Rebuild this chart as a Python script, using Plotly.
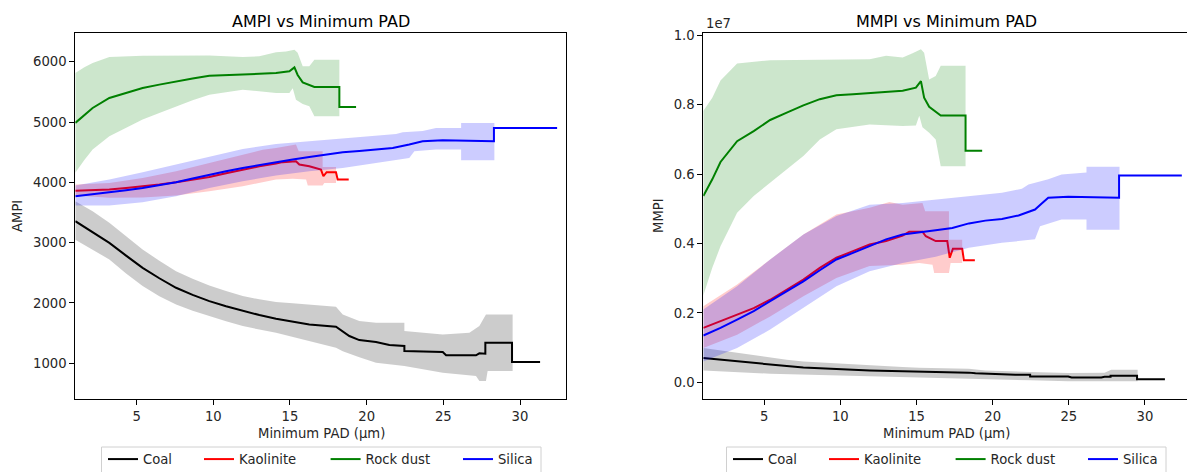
import plotly.graph_objects as go

# ---------------- data ----------------
# x = Minimum PAD (µm); MMPI values in units of 1e7
COAL_MEAN_X = [1.0, 2.13, 3.22, 4.31, 5.39, 6.48, 7.57, 8.65, 9.74, 10.83, 11.92, 13.0, 14.09, 15.18, 16.26,
               18.0, 18.44, 18.87, 19.52, 20.61, 21.48, 22.46, 22.46, 24.96, 25.18, 27.13, 27.35, 27.74, 27.74,
               29.48, 29.48, 31.31]
COAL_AMPI_MEAN = [3356, 3180, 2997, 2785, 2583, 2410, 2252, 2135, 2031, 1945, 1866, 1800, 1739, 1690, 1645,
                  1606, 1535, 1452, 1385, 1352, 1303, 1286, 1204, 1187, 1132, 1132, 1165, 1160, 1341,
                  1341, 1021, 1021]
COAL_MMPI_MEAN = [0.070, 0.065, 0.060, 0.055, 0.051, 0.047, 0.043, 0.040, 0.038, 0.036, 0.034, 0.033, 0.032, 0.030, 0.029,
                  0.029, 0.028, 0.026, 0.025, 0.022, 0.022, 0.022, 0.017, 0.017, 0.014, 0.014, 0.016, 0.016, 0.019,
                  0.019, 0.009, 0.009]
COAL_HI_X = [1.0, 2.13, 3.22, 4.31, 5.39, 6.48, 7.57, 8.65, 9.74, 10.83, 11.92, 13.0, 14.09, 15.18, 16.26,
             18.0, 18.44, 19.52, 20.61, 22.46, 22.46, 24.96, 26.70, 27.35, 27.78, 29.52]
COAL_AMPI_HI = [3687, 3520, 3329, 3100, 2887, 2700, 2528, 2400, 2291, 2200, 2114, 2060, 2015, 1995, 1976,
                1937, 1811, 1700, 1673, 1673, 1535, 1479, 1507, 1618, 1811, 1811]
COAL_MMPI_HI = [0.099, 0.092, 0.085, 0.077, 0.070, 0.065, 0.060, 0.057, 0.054, 0.051, 0.048, 0.046, 0.044, 0.042, 0.041,
                0.041, 0.039, 0.034, 0.033, 0.032, 0.030, 0.027, 0.027, 0.028, 0.036, 0.036]
COAL_LO_X = [1.0, 2.13, 3.22, 4.31, 5.39, 6.48, 7.57, 8.65, 9.74, 10.83, 11.92, 13.0, 14.09, 15.18, 16.26,
             18.0, 18.44, 19.52, 20.61, 22.46, 24.96, 27.13, 27.35, 27.78, 27.89, 29.52]
COAL_AMPI_LO = [3050, 2880, 2721, 2490, 2280, 2110, 1976, 1870, 1783, 1695, 1617, 1560, 1507, 1440, 1369,
                1259, 1200, 1100, 1010, 955, 845, 790, 707, 707, 872, 872]
COAL_MMPI_LO = [0.034, 0.031, 0.029, 0.027, 0.025, 0.023, 0.022, 0.020, 0.019, 0.018, 0.017, 0.016, 0.015, 0.014, 0.013,
                0.011, 0.010, 0.009, 0.008, 0.006, 0.003, 0.003, 0.002, 0.001, 0.003, 0.003]

KAO_MEAN_X = [1.0, 2.13, 3.22, 4.31, 5.39, 6.48, 7.57, 8.65, 9.74, 10.83, 11.92, 13.0, 14.09, 14.52, 15.39,
              15.61, 16.26, 17.02, 17.18, 17.39, 18.0, 18.11, 18.83]
KAO_AMPI_MEAN = [3862, 3870, 3880, 3905, 3930, 3965, 4002, 4045, 4090, 4150, 4212, 4265, 4311, 4335, 4350,
                 4295, 4267, 4212, 4101, 4168, 4168, 4046, 4046]
KAO_MMPI_MEAN = [0.157, 0.176, 0.195, 0.214, 0.238, 0.267, 0.296, 0.330, 0.359, 0.378, 0.397, 0.407, 0.423, 0.434, 0.434,
                 0.421, 0.407, 0.407, 0.359, 0.385, 0.385, 0.352, 0.352]
KAO_HI_X = [1.0, 3.22, 5.39, 7.57, 9.74, 11.92, 13.22, 14.09, 15.39, 15.57, 16.26, 17.13, 17.13, 18.0]
KAO_AMPI_HI = [3963, 3991, 4074, 4184, 4322, 4460, 4540, 4571, 4626, 4515, 4515, 4515, 4256, 4256]
KAO_MMPI_HI = [0.219, 0.282, 0.354, 0.426, 0.484, 0.503, 0.520, 0.512, 0.517, 0.493, 0.493, 0.493, 0.411, 0.411]
KAO_LO_X = [1.0, 3.22, 5.39, 7.57, 9.74, 11.92, 14.09, 15.18, 16.05, 16.16, 17.13, 17.24, 18.0]
KAO_AMPI_LO = [3781, 3743, 3750, 3781, 3853, 3936, 4046, 4060, 4046, 3947, 3947, 3990, 3990]
KAO_MMPI_LO = [0.099, 0.137, 0.190, 0.248, 0.301, 0.335, 0.339, 0.344, 0.339, 0.315, 0.315, 0.344, 0.344]

ROCK_MEAN_X = [1.0, 1.59, 2.13, 3.22, 4.31, 5.39, 6.48, 7.57, 8.65, 9.74, 10.83, 11.92, 13.0, 14.09, 14.96, 15.29,
               15.50, 15.83, 16.59, 18.22, 18.22, 19.31]
ROCK_AMPI_MEAN = [4985, 5120, 5233, 5399, 5480, 5564, 5620, 5675, 5720, 5768, 5775, 5785, 5800, 5813, 5840, 5906,
                  5780, 5658, 5581, 5581, 5250, 5250]
ROCK_MMPI_MEAN = [0.537, 0.585, 0.635, 0.695, 0.724, 0.756, 0.777, 0.798, 0.816, 0.827, 0.830, 0.833, 0.836, 0.840, 0.849, 0.868,
                  0.820, 0.794, 0.769, 0.769, 0.667, 0.667]
ROCK_HI_X = [1.0, 1.59, 2.13, 3.22, 5.39, 7.57, 9.74, 11.92, 13.0, 14.09, 14.74, 15.29, 15.50, 15.83, 16.26, 16.59, 18.22]
ROCK_AMPI_HI = [5813, 5910, 5978, 6078, 6100, 6100, 6105, 6078, 6090, 6155, 6170, 6199, 6150, 5923, 5923, 6033, 6033]
ROCK_MMPI_HI = [0.782, 0.820, 0.870, 0.919, 0.928, 0.929, 0.931, 0.931, 0.941, 0.936, 0.948, 0.960, 0.950, 0.873, 0.883, 0.912, 0.912]
ROCK_LO_X = [1.0, 1.59, 2.13, 3.22, 4.31, 5.39, 6.48, 7.57, 8.65, 9.74, 11.92, 14.09, 14.96, 15.18, 15.39, 15.83, 16.26,
             16.59, 18.22]
ROCK_AMPI_LO = [4157, 4370, 4543, 4764, 4900, 5040, 5150, 5261, 5360, 5454, 5537, 5481, 5481, 5560, 5371, 5300, 5261,
                5095, 5095]
ROCK_MMPI_LO = [0.250, 0.330, 0.392, 0.489, 0.537, 0.575, 0.614, 0.652, 0.700, 0.729, 0.743, 0.739, 0.740, 0.768, 0.735,
                0.719, 0.700, 0.623, 0.623]

SIL_MEAN_X = [1.0, 2.13, 3.22, 4.31, 5.39, 6.48, 7.57, 8.65, 9.74, 10.83, 11.92, 13.0, 14.09, 15.18, 16.26, 17.35,
              18.44, 19.52, 20.61, 21.70, 22.78, 23.22, 23.65, 24.96, 28.30, 28.30, 32.42]
SIL_AMPI_MEAN = [3770, 3800, 3836, 3870, 3908, 3952, 4002, 4063, 4129, 4185, 4239, 4288, 4333, 4380, 4422, 4460,
                 4499, 4520, 4543, 4571, 4626, 4650, 4680, 4697, 4681, 4902, 4902]
SIL_MMPI_MEAN = [0.135, 0.157, 0.181, 0.205, 0.234, 0.262, 0.291, 0.323, 0.354, 0.373, 0.392, 0.412, 0.426, 0.431, 0.438, 0.445,
                 0.458, 0.466, 0.471, 0.481, 0.498, 0.515, 0.532, 0.535, 0.532, 0.596, 0.596]
SIL_HI_X = [1.0, 3.22, 5.39, 7.57, 9.74, 11.92, 14.09, 16.26, 18.44, 20.61, 21.92, 22.35, 23.65, 24.52, 26.16, 26.16, 28.33]
SIL_AMPI_HI = [3947, 4046, 4168, 4295, 4433, 4554, 4637, 4681, 4720, 4764, 4800, 4830, 4850, 4902, 4902, 4985, 4985]
SIL_MMPI_HI = [0.210, 0.277, 0.354, 0.426, 0.479, 0.512, 0.517, 0.527, 0.537, 0.546, 0.558, 0.570, 0.585, 0.599, 0.605, 0.621, 0.621]
SIL_LO_X = [1.0, 3.22, 5.39, 7.57, 9.74, 11.92, 14.09, 16.26, 18.44, 20.61, 22.78, 23.11, 24.52, 26.16, 26.16, 28.33]
SIL_AMPI_LO = [3616, 3616, 3671, 3770, 3908, 4019, 4112, 4184, 4239, 4322, 4405, 4515, 4543, 4543, 4366, 4366]
SIL_MMPI_LO = [0.060, 0.099, 0.152, 0.214, 0.277, 0.320, 0.344, 0.362, 0.388, 0.402, 0.412, 0.450, 0.469, 0.469, 0.440, 0.440]

MMPI_SCALE = 1e7
X_TICKS = [5, 10, 15, 20, 25, 30]
AMPI_TICKS = [1000, 2000, 3000, 4000, 5000, 6000]
MMPI_TICKS = [0.0, 0.2, 0.4, 0.6, 0.8, 1.0]

MATERIALS = [
    ("Coal", "#000000", "rgba(0,0,0,0.2)",
     COAL_MEAN_X, COAL_AMPI_MEAN, COAL_MMPI_MEAN, COAL_HI_X, COAL_AMPI_HI, COAL_MMPI_HI, COAL_LO_X, COAL_AMPI_LO, COAL_MMPI_LO),
    ("Kaolinite", "#ff0000", "rgba(255,0,0,0.2)",
     KAO_MEAN_X, KAO_AMPI_MEAN, KAO_MMPI_MEAN, KAO_HI_X, KAO_AMPI_HI, KAO_MMPI_HI, KAO_LO_X, KAO_AMPI_LO, KAO_MMPI_LO),
    ("Rock dust", "#008000", "rgba(0,128,0,0.2)",
     ROCK_MEAN_X, ROCK_AMPI_MEAN, ROCK_MMPI_MEAN, ROCK_HI_X, ROCK_AMPI_HI, ROCK_MMPI_HI, ROCK_LO_X, ROCK_AMPI_LO, ROCK_MMPI_LO),
    ("Silica", "#0000ff", "rgba(0,0,255,0.2)",
     SIL_MEAN_X, SIL_AMPI_MEAN, SIL_MMPI_MEAN, SIL_HI_X, SIL_AMPI_HI, SIL_MMPI_HI, SIL_LO_X, SIL_AMPI_LO, SIL_MMPI_LO),
]

# ---------------- style ----------------
W, H = 1187, 472
FONT = "DejaVu Sans"
TXT = "#262626"
FS = 13.2
LEGEND_ENTRY_WIDTH = {"Coal": 51, "Kaolinite": 81.6, "Rock dust": 87.4, "Silica": 41}

def px(x):
    return x / W

def py(y):
    return 1 - y / H

fig = go.Figure()

for name, col, fillcol, mx, am, mm, hx, ah, mh, lx, al, ml in MATERIALS:
    for panel in (1, 2):
        if panel == 1:
            ym, yh, yl = am, ah, al
        else:
            ym = [v * MMPI_SCALE for v in mm]
            yh = [v * MMPI_SCALE for v in mh]
            yl = [v * MMPI_SCALE for v in ml]
        xa = "x" if panel == 1 else "x2"
        ya = "y" if panel == 1 else "y2"
        fig.add_trace(go.Scatter(
            x=mx, y=ym, mode="lines", name=name, line=dict(color=col, width=2),
            xaxis=xa, yaxis=ya, legend="legend" if panel == 1 else "legend2",
            legendwidth=LEGEND_ENTRY_WIDTH[name], showlegend=True, hoverinfo="skip"))
        fig.add_trace(go.Scatter(
            x=list(hx) + list(lx)[::-1], y=list(yh) + list(yl)[::-1],
            mode="lines", fill="toself", fillcolor=fillcol, line=dict(width=0, color=fillcol),
            xaxis=xa, yaxis=ya, showlegend=False, hoverinfo="skip"))

axis_common = dict(showline=True, linecolor="black", linewidth=1, ticks="outside", ticklen=5,
                   tickwidth=1, tickcolor="black", showgrid=False, zeroline=False,
                   tickfont=dict(family=FONT, size=FS, color=TXT))

ydom = [py(399), py(32.7)]
legend_common = dict(orientation="h", y=py(444), yanchor="top", xanchor="left",
                     borderwidth=0, bgcolor="rgba(0,0,0,0)",
                     font=dict(family=FONT, size=FS, color=TXT))
fig.update_layout(
    width=W, height=H, margin=dict(l=0, r=0, t=0, b=0, autoexpand=False),
    paper_bgcolor="white", plot_bgcolor="white",
    font=dict(family=FONT, size=FS, color=TXT),
    xaxis=dict(domain=[px(75.3), px(566)], range=[1.0, 33.0], tickvals=X_TICKS, mirror=True, anchor="y", **axis_common),
    yaxis=dict(domain=ydom, range=[408, 6481], tickvals=AMPI_TICKS, mirror=True, anchor="x", **axis_common),
    xaxis2=dict(domain=[px(703.3), 1.0], range=[1.0, 32.76], tickvals=X_TICKS, mirror=True, anchor="y2", **axis_common),
    yaxis2=dict(domain=ydom, range=[-0.048 * MMPI_SCALE, 1.0075 * MMPI_SCALE],
                tickvals=[v * MMPI_SCALE for v in MMPI_TICKS], ticktext=[f"{v:.1f}" for v in MMPI_TICKS],
                mirror=False, anchor="x2", **axis_common),
    legend=dict(x=px(103), **legend_common),
    legend2=dict(x=px(728), **legend_common),
)

# legend frames (matplotlib-style boxes, cut by the bottom edge)
for x0, x1 in ((101.5, 541), (726.5, 1166)):
    fig.add_shape(type="rect", xref="paper", yref="paper", x0=px(x0), x1=px(x1), y0=py(447), y1=py(485),
                  line=dict(color="#d0d0d0", width=1), fillcolor="white", layer="below")

ann = [
    dict(text="AMPI vs Minimum PAD", x=px(321), y=py(22), font=dict(size=16, family=FONT, color="#000")),
    dict(text="MMPI vs Minimum PAD", x=px(946), y=py(22), font=dict(size=16, family=FONT, color="#000")),
    dict(text="Minimum PAD (µm)", x=px(321), y=py(433), font=dict(size=FS, family=FONT, color=TXT)),
    dict(text="Minimum PAD (µm)", x=px(946), y=py(433), font=dict(size=FS, family=FONT, color=TXT)),
    dict(text="AMPI", x=px(17), y=py(216), textangle=-90, font=dict(size=FS, family=FONT, color=TXT)),
    dict(text="MMPI", x=px(658), y=py(216), textangle=-90, font=dict(size=FS, family=FONT, color=TXT)),
]
for a in ann:
    fig.add_annotation(xref="paper", yref="paper", showarrow=False, xanchor="center", yanchor="middle", **a)
fig.add_annotation(text="1e7", xref="paper", yref="paper", x=px(704), y=py(23.5), xanchor="left", yanchor="middle",
                   showarrow=False, font=dict(size=FS, family=FONT, color=TXT))

fig.write_html("out.html")
